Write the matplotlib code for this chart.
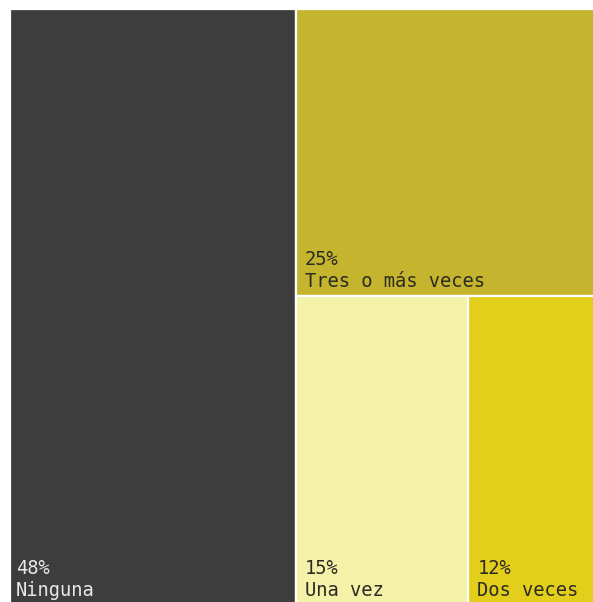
import matplotlib
matplotlib.use("Agg")
import matplotlib.pyplot as plt
from matplotlib.patches import Rectangle

categories = ["Ninguna", "Tres o más veces", "Una vez", "Dos veces"]
values = [48, 25, 15, 12]
colors = ["#3d3d3d", "#c4b42e", "#f4f1a8", "#e4ce1c"]
text_colors = ["#e8e8e8", "#2b2b22", "#2b2b22", "#2b2b22"]

W, H = 593, 602
fig = plt.figure(figsize=(W / 100, H / 100), dpi=100)
# treemap spans x 10..606 px (cropped at right), y from 9 px to slightly below bottom
left_px, right_px, top_px, bottom_extra = 10, 606, 9, 3
ax = fig.add_axes([left_px / W, -bottom_extra / H, (right_px - left_px) / W,
                   (H - top_px + bottom_extra) / H])
ax.set_xlim(0, 1)
ax.set_ylim(0, 1)
ax.axis("off")

total = sum(values)
w0 = values[0] / total
rest = total - values[0]
h_top = values[1] / rest
bottom_sum = values[2] + values[3]
w_una = (1 - w0) * values[2] / bottom_sum

rects = [
    (0, 0, w0, 1),
    (w0, 1 - h_top, 1 - w0, h_top),
    (w0, 0, w_una, 1 - h_top),
    (w0 + w_una, 0, 1 - w0 - w_una, 1 - h_top),
]

px = 0.72  # points per pixel at 100 dpi
pads = [6, 9, 9, 9]
for (x, y, w, h), cat, val, c, tc, pad in zip(rects, categories, values, colors,
                                              text_colors, pads):
    ax.add_patch(Rectangle((x, y), w, h, facecolor=c, edgecolor="white", linewidth=1.6,
                           clip_on=False))
    ax.annotate(cat, xy=(x, y), xytext=(pad * px, 9 * px), textcoords="offset points",
                ha="left", va="baseline", fontsize=13.5, family="DejaVu Sans Mono",
                color=tc)
    ax.annotate(f"{val}%", xy=(x, y), xytext=(pad * px, 31 * px), textcoords="offset points",
                ha="left", va="baseline", fontsize=13.5, family="DejaVu Sans Mono",
                color=tc)

fig.savefig("out.png", dpi=100, facecolor="white")
